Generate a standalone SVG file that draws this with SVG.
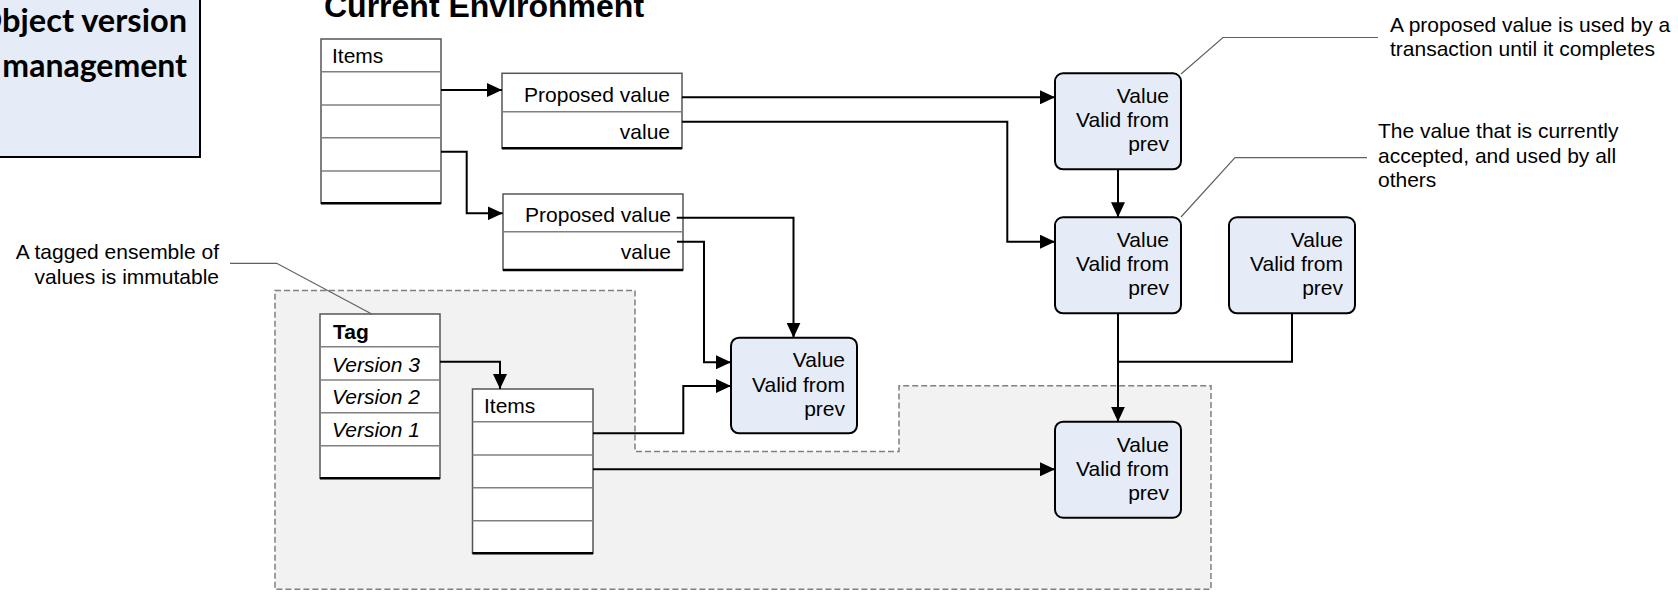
<svg xmlns="http://www.w3.org/2000/svg" width="1678" height="592" viewBox="0 0 1678 592">
<defs>
<style>
text{font-family:"Liberation Sans",Arial,sans-serif;font-size:21px;fill:#000}
.r{text-anchor:end}
.tbl{fill:#fff;stroke:#555;stroke-width:1.5}
.div{stroke:#808080;stroke-width:1.5}
.bot{stroke:#000;stroke-width:2.5}
.val{fill:#E6ECF7;stroke:#000;stroke-width:2}
.con{fill:none;stroke:#000;stroke-width:2}
.lead{fill:none;stroke:#606060;stroke-width:1.2}
.it{font-style:italic}
.big{font-family:Lato,"Open Sans",sans-serif;font-weight:bold;font-size:32px}
</style>
<marker id="ah" markerUnits="userSpaceOnUse" markerWidth="15" markerHeight="14" refX="15" refY="7" orient="auto" viewBox="0 0 15 14">
<path d="M0,0 L15,7 L0,14 z" fill="#000"/>
</marker>
</defs>
<rect width="1678" height="592" fill="#fff"/>

<g id="title-box">
<rect x="-10" y="-10" width="210" height="167" fill="#E6ECF7" stroke="#000" stroke-width="2"/>
<text x="-24" y="32" class="big" textLength="211" lengthAdjust="spacingAndGlyphs">Object version</text>
<text x="187" y="77" class="big r">management</text>
</g>

<g id="title">
<text x="324" y="17" style="font-weight:bold;font-size:32px">Current Environment</text>
</g>

<g id="immutable-region">
<path d="M275,290.5 H635 V451.5 H899 V385.7 H1211 V589.3 H275 Z" fill="#F2F2F2" stroke="#808080" stroke-width="1.5" stroke-dasharray="6,3"/>
</g>

<g id="items-top">
<rect x="321" y="39" width="120" height="164.3" class="tbl"/>
<line x1="321" y1="71.7" x2="441" y2="71.7" class="div"/>
<line x1="321" y1="105" x2="441" y2="105" class="div"/>
<line x1="321" y1="137.7" x2="441" y2="137.7" class="div"/>
<line x1="321" y1="171" x2="441" y2="171" class="div"/>
<line x1="321" y1="203.3" x2="441" y2="203.3" class="bot"/>
<text x="332" y="63">Items</text>
</g>

<g id="proposed-1">
<rect x="502" y="73.3" width="180" height="75" class="tbl"/>
<line x1="502" y1="111.7" x2="682" y2="111.7" class="div"/>
<line x1="502" y1="148.3" x2="682" y2="148.3" class="bot"/>
<text x="670" y="101.7" class="r">Proposed value</text>
<text x="670" y="139.3" class="r">value</text>
</g>

<g id="proposed-2">
<rect x="503" y="194" width="180" height="76" class="tbl"/>
<line x1="503" y1="231.7" x2="683" y2="231.7" class="div"/>
<line x1="503" y1="270" x2="683" y2="270" class="bot"/>
<text x="671" y="221.7" class="r">Proposed value</text>
<text x="671" y="259" class="r">value</text>
</g>

<g id="tag">
<rect x="320" y="314" width="120" height="164.3" class="tbl"/>
<line x1="320" y1="346.7" x2="440" y2="346.7" class="div"/>
<line x1="320" y1="380" x2="440" y2="380" class="div"/>
<line x1="320" y1="412.7" x2="440" y2="412.7" class="div"/>
<line x1="320" y1="445.7" x2="440" y2="445.7" class="div"/>
<line x1="320" y1="478.3" x2="440" y2="478.3" class="bot"/>
<text x="333" y="339" style="font-weight:bold">Tag</text>
<text x="332" y="371.5" class="it">Version 3</text>
<text x="332" y="404.3" class="it">Version 2</text>
<text x="332" y="437.3" class="it">Version 1</text>
</g>

<g id="items-bottom">
<rect x="472.5" y="389" width="120.5" height="164.3" class="tbl"/>
<line x1="472.5" y1="421.7" x2="593" y2="421.7" class="div"/>
<line x1="472.5" y1="455" x2="593" y2="455" class="div"/>
<line x1="472.5" y1="487.7" x2="593" y2="487.7" class="div"/>
<line x1="472.5" y1="520.7" x2="593" y2="520.7" class="div"/>
<line x1="472.5" y1="553.3" x2="593" y2="553.3" class="bot"/>
<text x="484" y="413">Items</text>
</g>

<g id="value-mid">
<rect x="731" y="337.7" width="126" height="95.6" rx="8" class="val"/>
<text x="845" y="367.3" class="r">Value</text>
<text x="845" y="391.5" class="r">Valid from</text>
<text x="845" y="415.5" class="r">prev</text>
</g>

<g id="value-a">
<rect x="1055" y="73.3" width="126" height="96" rx="8" class="val"/>
<text x="1169" y="103" class="r">Value</text>
<text x="1169" y="127" class="r">Valid from</text>
<text x="1169" y="151" class="r">prev</text>
</g>

<g id="value-b">
<rect x="1055" y="217.3" width="126" height="96" rx="8" class="val"/>
<text x="1169" y="247" class="r">Value</text>
<text x="1169" y="271" class="r">Valid from</text>
<text x="1169" y="295" class="r">prev</text>
</g>

<g id="value-c">
<rect x="1229" y="217.3" width="126" height="96" rx="8" class="val"/>
<text x="1343" y="247" class="r">Value</text>
<text x="1343" y="271" class="r">Valid from</text>
<text x="1343" y="295" class="r">prev</text>
</g>

<g id="value-d">
<rect x="1055" y="421.7" width="126" height="96" rx="8" class="val"/>
<text x="1169" y="451.5" class="r">Value</text>
<text x="1169" y="475.5" class="r">Valid from</text>
<text x="1169" y="499.5" class="r">prev</text>
</g>

<g id="connectors">
<path d="M441,90 H502" class="con" marker-end="url(#ah)"/>
<path d="M441,151.7 H466.7 V213.3 H502.7" class="con" marker-end="url(#ah)"/>
<path d="M682,97.3 H1055" class="con" marker-end="url(#ah)"/>
<path d="M682,121.7 H1007.3 V241.7 H1055" class="con" marker-end="url(#ah)"/>
<path d="M676.7,217.7 H793.5 V337.7" class="con" marker-end="url(#ah)"/>
<path d="M677,241.7 H704 V362.3 H731" class="con" marker-end="url(#ah)"/>
<path d="M593,433.3 H683.3 V386 H731" class="con" marker-end="url(#ah)"/>
<path d="M440,361.7 H500 V389" class="con" marker-end="url(#ah)"/>
<path d="M593,469.3 H1055" class="con" marker-end="url(#ah)"/>
<path d="M1118,169.3 V217.3" class="con" marker-end="url(#ah)"/>
<path d="M1118,313.3 V421.7" class="con" marker-end="url(#ah)"/>
<path d="M1292,313.3 V361.7 H1118" class="con"/>
</g>

<g id="annotations">
<path d="M1181,74 L1223,37.5 H1378" class="lead"/>
<text x="1390" y="31.5">A proposed value is used by a</text>
<text x="1390" y="55.5">transaction until it completes</text>
<path d="M1181,217 L1235,157.7 H1367" class="lead"/>
<text x="1378" y="138">The value that is currently</text>
<text x="1378" y="162.5">accepted, and used by all</text>
<text x="1378" y="187">others</text>
<path d="M230,263.3 H276.7 L371.7,314" class="lead"/>
<text x="219" y="259" class="r">A tagged ensemble of</text>
<text x="219" y="283.5" class="r">values is immutable</text>
</g>
</svg>
